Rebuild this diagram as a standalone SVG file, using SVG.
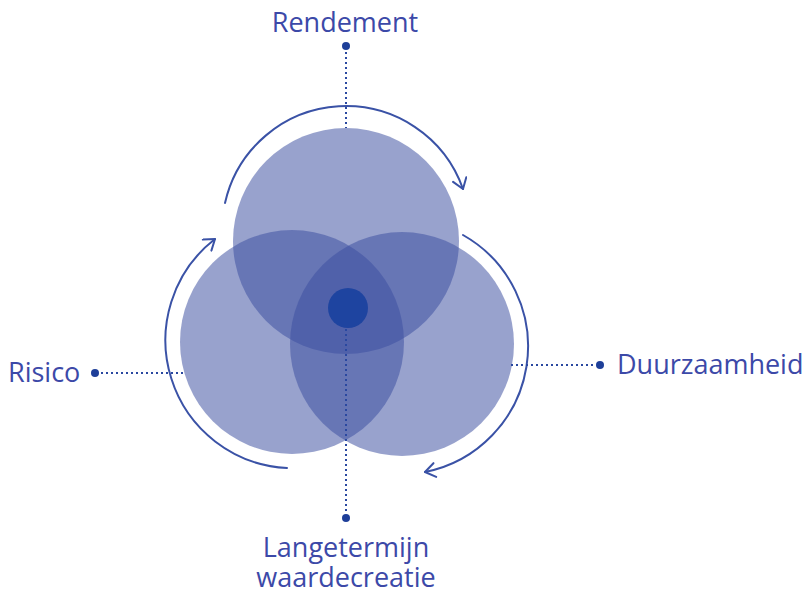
<svg xmlns="http://www.w3.org/2000/svg" width="804" height="594" viewBox="0 0 804 594">
<defs>
<style>
.c{fill:#3d50a0;fill-opacity:0.53}
.arc{fill:none;stroke:#3a52a6;stroke-width:2;stroke-linecap:round}
.dot{fill:none;stroke:#2a48a0;stroke-width:2;stroke-dasharray:2 3}
.pin{fill:#1e3f99}
.t{font-family:"Open Sans","Noto Sans",sans-serif;font-size:27px;fill:#3c49a8}
.tb{font-family:"Open Sans","Noto Sans",sans-serif;font-size:27px;fill:#3c49a8;line-height:1}
</style>
<marker id="ah" viewBox="-12 -8 14 16" markerWidth="14" markerHeight="16" refX="0" refY="0" orient="auto" markerUnits="userSpaceOnUse">
<path d="M-10,-7 L0,0 L-10,7" fill="none" stroke="#3a52a6" stroke-width="2" stroke-linecap="round" stroke-linejoin="round"/>
</marker>
</defs>
<rect width="804" height="594" fill="#ffffff"/>
<g id="circles">
<circle id="circle-top" class="c" cx="346" cy="241" r="113"/>
<circle id="circle-left" class="c" cx="292" cy="342" r="112"/>
<circle id="circle-right" class="c" cx="402" cy="344" r="112"/>
</g>
<g id="connectors">
<path class="arc" d="M225,203 A124,124 0 0 1 463,189" marker-end="url(#ah)"/>
<path class="arc" d="M463,235 A128,128 0 0 1 425,472" marker-end="url(#ah)"/>
<path class="arc" d="M287,468 A128,128 0 0 1 215,239" marker-end="url(#ah)"/>
<line class="dot" x1="346" y1="52" x2="346" y2="128"/>
<line class="dot" x1="101" y1="373" x2="186" y2="373"/>
<line class="dot" x1="511" y1="365" x2="595" y2="365"/>
<line class="dot" x1="346" y1="329" x2="346" y2="513"/>
</g>
<g id="center">
<circle cx="348" cy="308" r="20" fill="#1e44a0"/>
</g>
<g id="node-rendement">
<circle class="pin" cx="346" cy="46" r="4"/>
<text class="t" x="345" y="32" text-anchor="middle">Rendement</text>
</g>
<g id="node-risico">
<circle class="pin" cx="95" cy="373" r="4"/>
<text class="t" x="8" y="382">Risico</text>
</g>
<g id="node-duurzaamheid">
<circle class="pin" cx="600" cy="365" r="4"/>
<text class="t" x="617" y="374">Duurzaamheid</text>
</g>
<g id="node-langetermijn">
<circle class="pin" cx="346" cy="518" r="4"/>
<text class="tb" x="346" y="557" text-anchor="middle">Langetermijn</text>
<text class="tb" x="346" y="587" text-anchor="middle">waardecreatie</text>
</g>
</svg>
